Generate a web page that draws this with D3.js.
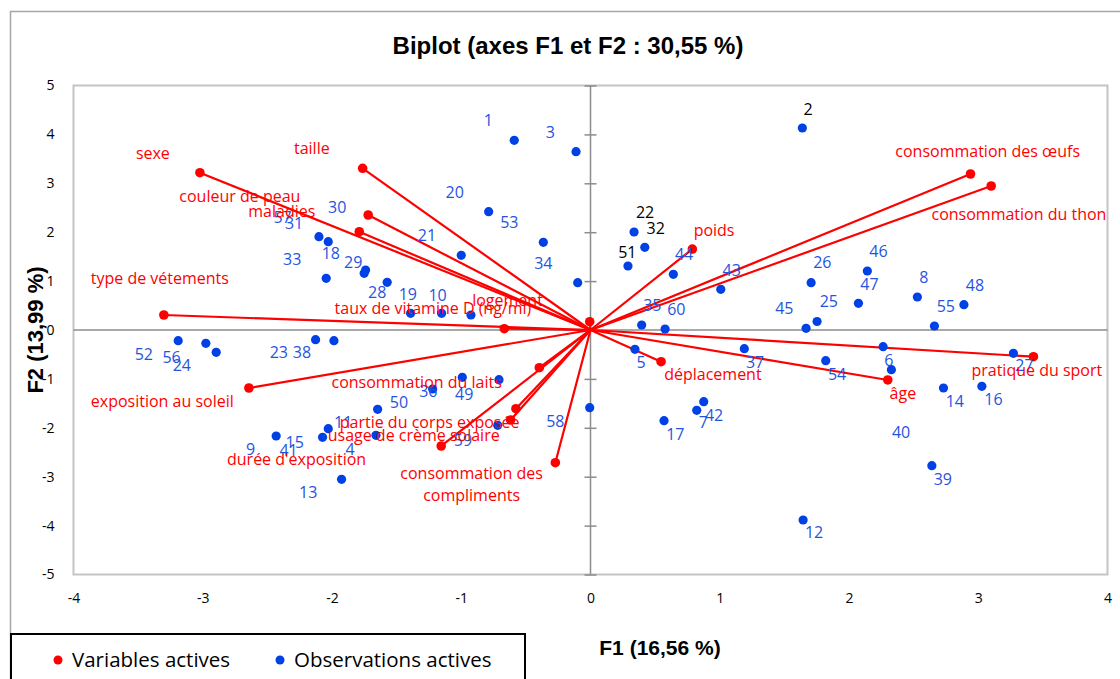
<!DOCTYPE html>
<html>
<head>
<meta charset="utf-8">
<script src="https://cdn.jsdelivr.net/npm/d3@7"></script>
<style>
  body { margin: 0; background: #fff; }
  svg { display: block; }
</style>
</head>
<body>
<svg width="1120" height="679"></svg>
<script>
// Variables actives (F1, F2) + position des étiquettes
const varNames = [
  "sexe", "taille", "couleur de peau", "maladies", "type de vétements",
  "taux de vitamine D (ng/ml)", "logement", "exposition au soleil",
  "consommation du laits", "partie du corps exposée", "usage de crème solaire",
  "durée d'exposition", "consommation des\ncompliments", "poids",
  "consommation des œufs", "consommation du thon", "déplacement", "âge",
  "pratique du sport"
];
const varF1 = [-3.022, -1.763, -1.720, -1.789, -3.301, -0.667, -0.006, -2.643, -0.396, -0.577, -0.618, -1.155, -0.272, 0.788, 2.940, 3.100, 0.546, 2.300, 3.427];
const varF2 = [3.217, 3.307, 2.352, 2.010, 0.307, 0.027, 0.170, -1.186, -0.771, -1.609, -1.840, -2.372, -2.714, 1.656, 3.190, 2.945, -0.648, -1.022, -0.546];
const varLabelF1 = [-3.386, -2.156, -2.713, -2.388, -3.332, -1.219, -0.642, -3.313, -1.345, -1.245, -1.368, -2.274, -0.920, 0.956, 3.073, 3.315, 0.947, 2.417, 3.453];
const varLabelF2 = [3.620, 3.722, 2.740, 2.434, 1.063, 0.450, 0.613, -1.466, -1.070, -1.896, -2.147, -2.644, -2.931, 2.045, 3.646, 2.366, -0.900, -1.295, -0.832];

// Observations actives
const obsIds = [
  1, 2, 3, 4, 5, 6, 7, 8, 9, 10, 11, 12, 13, 14, 15, 16, 17, 18, 19, 20,
  21, 22, 23, 24, 25, 26, 27, 28, 29, 30, 31, 32, 33, 34, 35, 36, 37, 38, 39, 40,
  41, 42, 43, 44, 45, 46, 47, 48, 49, 50, 51, 52, 53, 54, 55, 56, 57, 58, 59, 60
];
const obsF1 = [
  -0.590, 1.639, -0.112, -1.660, 0.344, 2.264, 0.822, 2.529, -2.432, -0.925,
  -1.647, 1.645, -1.926, 2.731, -2.029, 3.028, 0.569, -1.751, -1.152, -0.788,
  -1.000, 0.337, -2.127, -2.896, 1.753, 1.707, 3.272, -1.392, -1.573, -1.740,
  -2.029, 0.420, -2.045, -0.099, 0.396, -0.992, 1.190, -1.985, 2.641, 2.328,
  -2.073, 0.876, 1.008, 0.641, 1.668, 2.142, 2.073, 2.889, -0.708, -1.221,
  0.290, -3.190, -0.365, 1.820, 2.661, -2.976, -2.101, -0.006, -0.718, 0.577
];
const obsF2 = [
  3.879, 4.131, 3.646, -2.153, -0.395, -0.342, -1.642, 0.675, -2.168, 0.307,
  -1.622, -3.885, -3.053, -1.186, -2.018, -1.151, -1.855, 1.160, 0.342, 2.419,
  1.528, 2.004, -0.198, -0.456, 0.174, 0.967, -0.476, 0.342, 0.975, 1.227,
  1.806, 1.691, 1.057, 0.967, 0.102, -0.967, -0.382, -0.219, -2.775, -0.812,
  -2.194, -1.466, 0.832, 1.139, 0.035, 1.207, 0.546, 0.517, -1.016, -1.207,
  1.309, -0.219, 1.793, -0.628, 0.082, -0.272, 1.908, -1.589, -1.949, 0.020
];
const obsLabelF1 = [
  -0.791, 1.683, -0.311, -1.861, 0.391, 2.308, 0.873, 2.579, -2.630, -1.183,
  -1.913, 1.730, -2.184, 2.819, -2.289, 3.118, 0.656, -2.009, -1.413, -1.051,
  -1.265, 0.422, -2.411, -3.162, 1.844, 1.794, 3.358, -1.650, -1.836, -1.960,
  -2.293, 0.505, -2.308, -0.365, 0.478, -1.255, 1.273, -2.233, 2.726, 2.403,
  -2.336, 0.956, 1.093, 0.724, 1.500, 2.228, 2.158, 2.974, -0.977, -1.482,
  0.285, -3.456, -0.628, 1.908, 2.749, -3.241, -2.382, -0.272, -0.987, 0.664
];
const obsLabelF2 = [
  4.280, 4.519, 4.043, -2.440, -0.669, -0.628, -1.896, 1.084, -2.440, 0.716,
  -1.888, -4.137, -3.319, -1.452, -2.290, -1.417, -2.133, 1.569, 0.730, 2.816,
  1.943, 2.407, -0.464, -0.730, 0.579, 1.384, -0.716, 0.763, 1.384, 2.515,
  2.182, 2.080, 1.452, 1.364, 0.511, -1.262, -0.669, -0.464, -3.053, -2.100,
  -2.468, -1.753, 1.227, 1.548, 0.444, 1.601, 0.941, 0.906, -1.309, -1.479,
  1.581, -0.497, 2.194, -0.906, 0.476, -0.558, 2.297, -1.875, -2.249, 0.429
];
const blackLabels = [2, 22, 32, 51];

const xTicks = [-4, -3, -2, -1, 0, 1, 2, 3, 4];
const yTicks = [-5, -4, -3, -2, -1, 0, 1, 2, 3, 4, 5];

const RED = "#ff0000";
const BLUE_DOT = "#0041e6";
const BLUE_TXT = "#1f55e0";
const LABEL_FONT = "'Open Sans', 'Noto Sans', sans-serif";

function drawChart() {
  const svg = d3.select("svg");
  const width = +svg.attr("width");
  const height = +svg.attr("height");
  const plot = { left: 73.5, right: 1107.5, top: 85.5, bottom: 574.5 };

  svg.append("rect").attr("width", width).attr("height", height).attr("fill", "#fff");

  // cadre du graphique
  svg.append("rect")
    .attr("x", 10.5).attr("y", 11.5)
    .attr("width", width + 20).attr("height", height + 20)
    .attr("fill", "none").attr("stroke", "#a6a6a6").attr("stroke-width", 1.5);

  const x = d3.scaleLinear().domain([-4, 4]).range([plot.left, plot.right]);
  const y = d3.scaleLinear().domain([-5, 5]).range([plot.bottom, plot.top]);

  // zone de tracé
  svg.append("rect")
    .attr("x", plot.left).attr("y", plot.top)
    .attr("width", plot.right - plot.left).attr("height", plot.bottom - plot.top)
    .attr("fill", "none").attr("stroke", "#c4c4c4").attr("stroke-width", 2);

  // graduations
  const xAxis = svg.append("g")
    .attr("transform", `translate(0,${plot.bottom})`)
    .call(d3.axisBottom(x).tickValues(xTicks).tickSize(0).tickPadding(19).tickFormat(d3.format("d")));
  const yAxis = svg.append("g")
    .attr("transform", `translate(${plot.left},0)`)
    .call(d3.axisLeft(y).tickValues(yTicks).tickSize(0).tickPadding(19).tickFormat(d3.format("d")));
  [xAxis, yAxis].forEach(a => {
    a.select(".domain").remove();
    a.selectAll("text")
      .attr("font-family", LABEL_FONT)
      .attr("font-size", 14)
      .attr("fill", "#000")
      .text(d => d < 0 ? "-" + Math.abs(d) : d);
  });

  // axes passant par l'origine
  svg.append("line")
    .attr("x1", plot.left).attr("x2", plot.right)
    .attr("y1", y(0)).attr("y2", y(0))
    .attr("stroke", "#8c8c8c").attr("stroke-width", 1.5);
  const zeroAxis = svg.append("g")
    .attr("transform", `translate(${x(0) - 6},0)`)
    .call(d3.axisRight(y).tickValues(yTicks).tickSize(12).tickFormat(""));
  zeroAxis.select(".domain").remove();
  zeroAxis.selectAll("line").attr("stroke", "#8c8c8c").attr("stroke-width", 1.5);
  svg.append("line")
    .attr("x1", x(0)).attr("x2", x(0))
    .attr("y1", plot.top).attr("y2", plot.bottom)
    .attr("stroke", "#8c8c8c").attr("stroke-width", 1.5);

  const vars = varNames.map((name, i) => ({
    name, f1: varF1[i], f2: varF2[i], lx: varLabelF1[i], ly: varLabelF2[i]
  }));
  const obs = obsIds.map((id, i) => ({
    id, f1: obsF1[i], f2: obsF2[i], lx: obsLabelF1[i], ly: obsLabelF2[i]
  }));

  // vecteurs des variables
  svg.append("g").selectAll("line")
    .data(vars)
    .join("line")
    .attr("x1", x(0)).attr("y1", y(0))
    .attr("x2", d => x(d.f1)).attr("y2", d => y(d.f2))
    .attr("stroke", RED).attr("stroke-width", 2.2);

  svg.append("g").selectAll("circle")
    .data(vars)
    .join("circle")
    .attr("cx", d => x(d.f1)).attr("cy", d => y(d.f2))
    .attr("r", 4.8).attr("fill", RED);

  // observations
  svg.append("g").selectAll("circle")
    .data(obs)
    .join("circle")
    .attr("cx", d => x(d.f1)).attr("cy", d => y(d.f2))
    .attr("r", 4.6).attr("fill", BLUE_DOT);

  svg.append("g").selectAll("text")
    .data(obs)
    .join("text")
    .attr("x", d => x(d.lx)).attr("y", d => y(d.ly))
    .attr("dy", "0.36em")
    .attr("text-anchor", "middle")
    .attr("font-family", LABEL_FONT)
    .attr("font-size", 16)
    .attr("fill", d => blackLabels.includes(d.id) ? "#000" : BLUE_TXT)
    .text(d => d.id);

  const varLabels = svg.append("g").selectAll("text")
    .data(vars)
    .join("text")
    .attr("x", d => x(d.lx)).attr("y", d => y(d.ly))
    .attr("text-anchor", "middle")
    .attr("font-family", LABEL_FONT)
    .attr("font-size", 16)
    .attr("fill", RED);
  varLabels.each(function (d) {
    const lines = d.name.split("\n");
    lines.forEach((line, k) => {
      d3.select(this).append("tspan")
        .attr("x", x(d.lx))
        .attr("dy", k === 0 ? "0.36em" : "1.36em")
        .text(line);
    });
  });

  // titres
  svg.append("text")
    .attr("x", 568).attr("y", 54)
    .attr("text-anchor", "middle")
    .attr("font-family", "'Liberation Sans', Arial, sans-serif")
    .attr("font-weight", "bold").attr("font-size", 24)
    .text("Biplot (axes F1 et F2 : 30,55 %)");

  svg.append("text")
    .attr("x", 660).attr("y", 655)
    .attr("text-anchor", "middle")
    .attr("font-family", "'Liberation Sans', Arial, sans-serif")
    .attr("font-weight", "bold").attr("font-size", 21)
    .text("F1 (16,56 %)");

  svg.append("text")
    .attr("transform", `translate(43,${y(0)}) rotate(-90)`)
    .attr("text-anchor", "middle")
    .attr("font-family", "'Liberation Sans', Arial, sans-serif")
    .attr("font-weight", "bold").attr("font-size", 22)
    .text("F2 (13,99 %)");

  // légende
  const legend = svg.append("g");
  legend.append("rect")
    .attr("x", 11).attr("y", 634)
    .attr("width", 514).attr("height", 80)
    .attr("fill", "#fff").attr("stroke", "#000").attr("stroke-width", 2);
  const legendItems = [
    { label: "Variables actives", color: RED, cx: 58 },
    { label: "Observations actives", color: BLUE_DOT, cx: 280 }
  ];
  legendItems.forEach(it => {
    legend.append("circle").attr("cx", it.cx).attr("cy", 660).attr("r", 4.5).attr("fill", it.color);
    legend.append("text")
      .attr("x", it.cx + 14).attr("y", 660).attr("dy", "0.36em")
      .attr("font-family", LABEL_FONT).attr("font-size", 20.5)
      .text(it.label);
  });
}

drawChart();
</script>
</body>
</html>
